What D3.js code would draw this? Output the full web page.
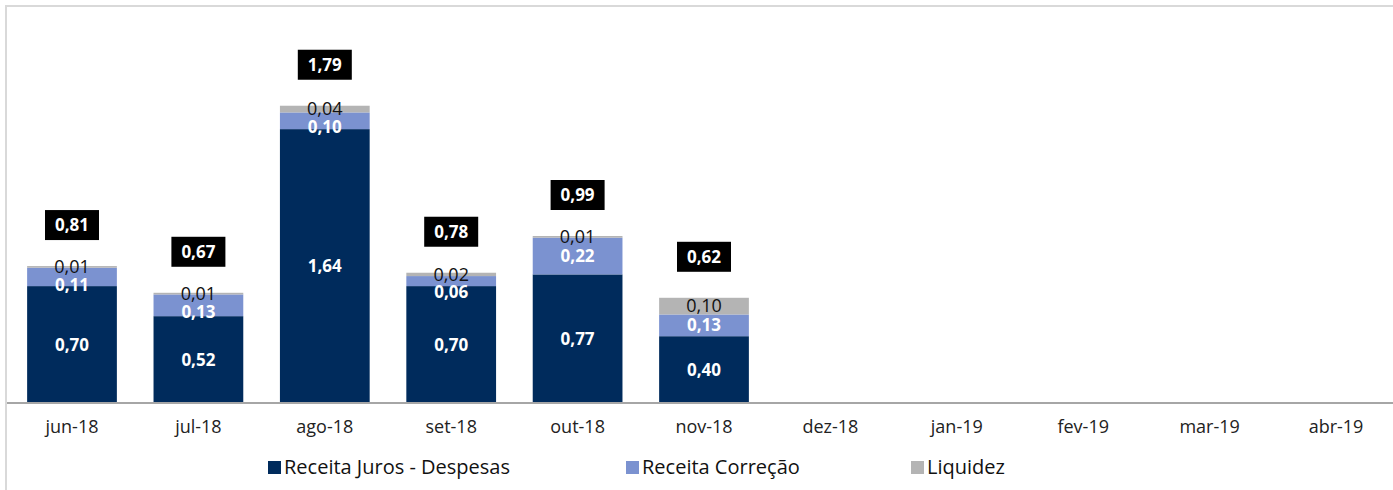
<!DOCTYPE html>
<html>
<head>
<meta charset="utf-8">
<script src="https://cdn.jsdelivr.net/npm/d3@7"></script>
<style>
  body { margin: 0; background: #fff; }
  text { font-family: "Open Sans", "Noto Sans", sans-serif; }
</style>
</head>
<body>
<div id="chart"></div>
<script>
// Data
const categories = ['jun-18', 'jul-18', 'ago-18', 'set-18', 'out-18', 'nov-18', 'dez-18', 'jan-19', 'fev-19', 'mar-19', 'abr-19']
const juros = [0.70, 0.52, 1.64, 0.70, 0.77, 0.40, null, null, null, null, null]
const correcao = [0.11, 0.13, 0.10, 0.06, 0.22, 0.13, null, null, null, null, null]
const liquidez = [0.01, 0.01, 0.04, 0.02, 0.01, 0.10, null, null, null, null, null]
const totals = [0.81, 0.67, 1.79, 0.78, 0.99, 0.62, null, null, null, null, null]
const seriesNames = ['Receita Juros - Despesas', 'Receita Correção', 'Liquidez']
const colors = ['#002b5c', '#7b92d0', '#b4b4b4']

const width = 1393
const height = 490
const baseline = 403
const fmt = v => d3.format('.2f')(v).replace('.', ',')

const svg = d3
  .select('#chart')
  .append('svg')
  .attr('width', width)
  .attr('height', height)

// Frame
svg
  .append('rect')
  .attr('x', 6)
  .attr('y', 6)
  .attr('width', width + 20)
  .attr('height', height + 20)
  .attr('fill', 'none')
  .attr('stroke', '#d9d9d9')
  .attr('stroke-width', 2)

// Scales
const xScale = d3
  .scaleBand()
  .domain(categories)
  .range([8.8, 8.8 + 126.4 * categories.length])
  .paddingInner(0.29)
  .paddingOuter(0.145)

const yScale = d3.scaleLinear().domain([0, 2]).range([baseline, baseline - 334])

// Stack the series
const rows = categories.map((c, i) => ({
  cat: c,
  juros: juros[i],
  correcao: correcao[i],
  liquidez: liquidez[i],
}))
const keys = ['juros', 'correcao', 'liquidez']
const stacked = d3.stack().keys(keys).value((d, k) => d[k] || 0)(rows)

const layers = svg
  .selectAll('.layer')
  .data(stacked)
  .enter()
  .append('g')
  .attr('class', 'layer')
  .attr('fill', (d, i) => colors[i])

layers
  .selectAll('rect')
  .data(d => d.filter(p => p.data[d.key] != null))
  .enter()
  .append('rect')
  .attr('x', d => xScale(d.data.cat))
  .attr('width', xScale.bandwidth())
  .attr('y', d => yScale(d[1]))
  .attr('height', d => yScale(d[0]) - yScale(d[1]))

// Axis
const xAxis = d3.axisBottom(xScale).tickSize(0).tickPadding(17)
const axisG = svg
  .append('g')
  .attr('class', 'x-axis')
  .attr('transform', `translate(0,${baseline})`)
  .call(xAxis)
axisG.select('.domain').remove()
axisG
  .selectAll('text')
  .attr('font-size', 18)
  .attr('fill', '#222')
  .style('font-family', '"Open Sans", "Noto Sans", sans-serif')
svg
  .append('line')
  .attr('x1', 7)
  .attr('x2', width)
  .attr('y1', baseline)
  .attr('y2', baseline)
  .attr('stroke', '#a6a6a6')
  .attr('stroke-width', 2)

// Segment labels
const labelsG = svg.append('g')
rows.forEach((r, i) => {
  if (r.juros == null) return
  const cx = xScale(r.cat) + xScale.bandwidth() / 2
  const sj = stacked[0][i]
  const sc = stacked[1][i]
  const sl = stacked[2][i]
  const yj = (yScale(sj[0]) + yScale(sj[1])) / 2
  const yl = Math.max((yScale(sl[0]) + yScale(sl[1])) / 2, yScale(sl[1]) + 1)
  const yc = Math.max((yScale(sc[0]) + yScale(sc[1])) / 2, yl + 18)

  const add = (y, txt, fill, weight, size) =>
    labelsG
      .append('text')
      .attr('x', cx)
      .attr('y', y)
      .attr('dy', '0.35em')
      .attr('text-anchor', 'middle')
      .attr('font-size', size || 17)
      .attr('font-weight', weight)
      .attr('fill', fill)
      .text(fmt(txt))

  add(yj, r.juros, '#fff', 'bold')
  add(yc, r.correcao, '#fff', 'bold')
  add(yl, r.liquidez, '#111', 'normal', 18)

  // Total box
  const by = yScale(sl[1]) - 41
  labelsG
    .append('rect')
    .attr('x', cx - 27)
    .attr('y', by - 15)
    .attr('width', 54)
    .attr('height', 30)
    .attr('fill', '#000')
  add(by, totals[i], '#fff', 'bold')
})

// Legend
const legendX = [268, 626, 911]
const legend = svg
  .selectAll('.legend')
  .data(seriesNames)
  .enter()
  .append('g')
  .attr('class', 'legend')
  .attr('transform', (d, i) => `translate(${legendX[i]},467)`)
legend
  .append('rect')
  .attr('x', 0)
  .attr('y', -6)
  .attr('width', 13)
  .attr('height', 13)
  .attr('fill', (d, i) => colors[i])
legend
  .append('text')
  .attr('x', 16)
  .attr('dy', '0.35em')
  .attr('font-size', 20)
  .attr('fill', '#111')
  .text(d => d)
</script>
</body>
</html>
